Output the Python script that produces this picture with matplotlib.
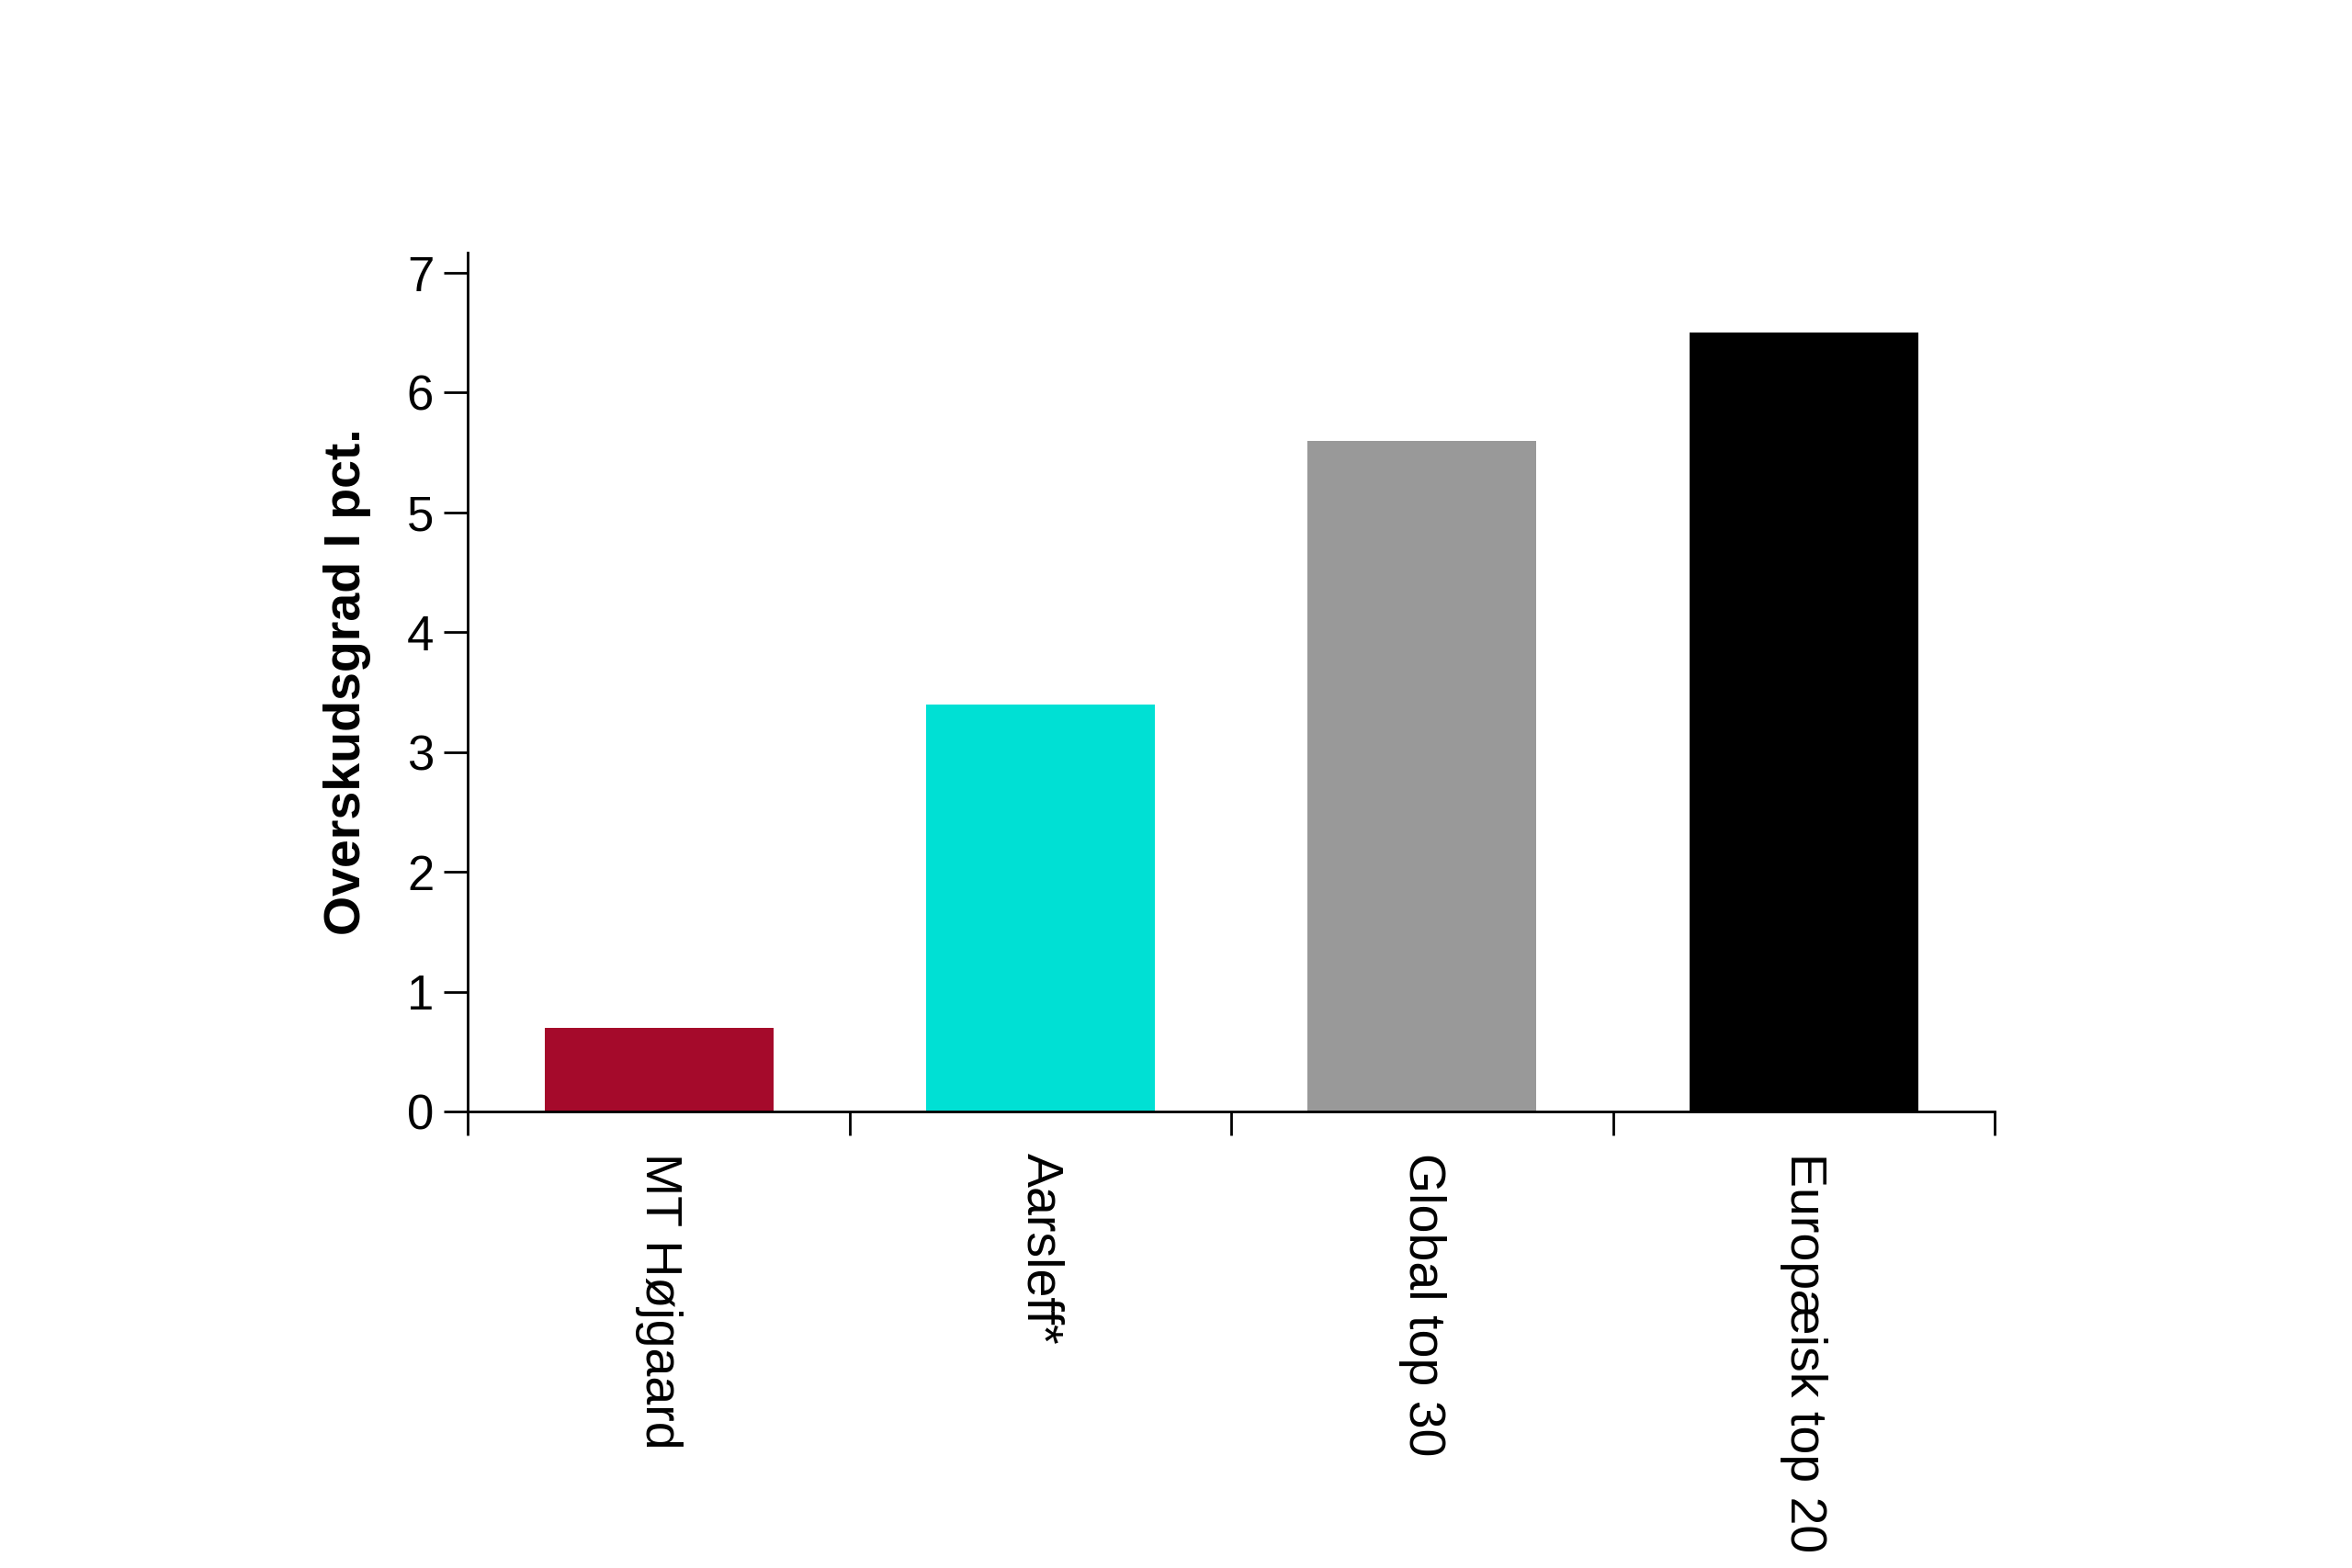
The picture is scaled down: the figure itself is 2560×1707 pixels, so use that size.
import numpy as np
import matplotlib
matplotlib.use("Agg")
import matplotlib.pyplot as plt

plt.rcParams['font.family'] = ['Liberation Sans', 'DejaVu Sans']

categories = ["MT Højgaard", "Aarsleff*", "Global top 30", "Europæisk top 20"]
values = [0.7, 3.4, 5.6, 6.5]
colors = ["#A50A2B", "#00E0D4", "#999999", "#000000"]
y_ticks = [0, 1, 2, 3, 4, 5, 6, 7]
y_label = "Overskudsgrad I pct."

fig = plt.figure(figsize=(12.8, 8.535), dpi=200)
ax = fig.add_axes([0.199, 0.291, 0.649, 0.548])

x = np.arange(len(categories))
ax.bar(x, values, width=0.6, color=colors)

ax.set_xlim(-0.5, len(categories) - 0.5)
ax.set_ylim(0, 7.17)
ax.set_yticks(y_ticks)

# category labels at centres, tick marks at the boundaries
ax.set_xticks(x)
ax.set_xticklabels(categories, rotation=-90, va="top", ha="center", fontsize=20)
ax.set_xticks(np.arange(len(categories) + 1) - 0.5, minor=True)
ax.tick_params(axis="x", which="major", length=0, pad=16)
ax.tick_params(axis="x", which="minor", length=9.4, width=1.0, direction="out")
ax.tick_params(axis="y", length=9.4, width=1.0, pad=4, labelsize=19)

for s in ["top", "right"]:
    ax.spines[s].set_visible(False)
for s in ["left", "bottom"]:
    ax.spines[s].set_linewidth(1.0)

ax.set_ylabel(y_label, fontsize=20, fontweight="bold", labelpad=14)

fig.savefig("out.png", dpi=200, facecolor="white")
